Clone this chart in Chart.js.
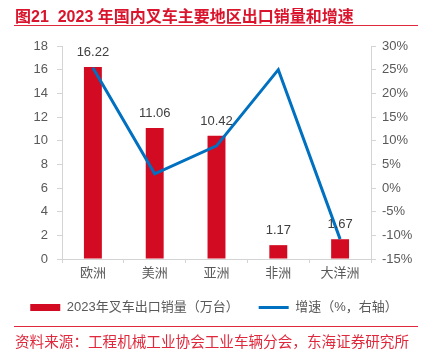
<!DOCTYPE html>
<html>
<head>
<meta charset="utf-8">
<script src="https://cdn.jsdelivr.net/npm/chart.js@4.4.1/dist/chart.umd.min.js"></script>
<style>
  html, body { margin: 0; padding: 0; background: #fff; }
  #wrap { position: relative; width: 428px; height: 355px; overflow: hidden; }
  #title { position: absolute; left: 15px; top: 3px; font: bold 16px "Liberation Sans", "Noto Sans CJK SC", sans-serif; color: #d9142c; white-space: nowrap; }
  #tline { position: absolute; left: 14px; top: 25px; width: 404px; height: 0; border-top: 1.5px solid #e0283c; }
  #bline { position: absolute; left: 14px; top: 326px; width: 404px; height: 0; border-top: 1.5px solid #e0283c; }
  #source { position: absolute; left: 15px; top: 330px; font: 14.6px "Liberation Sans", "Noto Sans CJK SC", sans-serif; color: #e0283c; white-space: nowrap; }
  #cv { position: absolute; left: 0; top: 0; }
</style>
</head>
<body>
<div id="wrap">
  <canvas id="cv" width="428" height="355"></canvas>
  <div id="title">图21&nbsp;&nbsp;2023 年国内叉车主要地区出口销量和增速</div>
  <div id="tline"></div>
  <div id="bline"></div>
  <div id="source">资料来源：工程机械工业协会工业车辆分会，东海证券研究所</div>
</div>
<script>
const categories = ['欧洲', '美洲', '亚洲', '非洲', '大洋洲'];
const exportVolume = [16.22, 11.06, 10.42, 1.17, 1.67];
const growthRate = [25.4, 3.0, 8.9, 25.0, -10.8];
const barLabel = '2023年叉车出口销量（万台）';
const lineLabel = '增速（%，右轴）';

const FONT = '"Liberation Sans", "Noto Sans CJK SC", sans-serif';
const RED = '#d20a22';
const BLUE = '#0070c0';
const GREY_TEXT = '#595959';
const AXIS = '#d4d4d4';

const barValueLabels = {
  id: 'barValueLabels',
  afterDatasetsDraw(chart) {
    const meta = chart.getDatasetMeta(1);
    const ctx = chart.ctx;
    ctx.save();
    ctx.font = '13px ' + FONT;
    ctx.fillStyle = '#404040';
    ctx.textAlign = 'center';
    ctx.textBaseline = 'bottom';
    meta.data.forEach((el, i) => {
      ctx.fillText(exportVolume[i].toFixed(2), el.x, el.y - 8);
    });
    ctx.restore();
  }
};

new Chart(document.getElementById('cv'), {
  data: {
    labels: categories,
    datasets: [
      {
        type: 'line',
        label: lineLabel,
        data: growthRate,
        yAxisID: 'y1',
        borderColor: BLUE,
        backgroundColor: BLUE,
        borderWidth: 3,
        pointRadius: 0,
        tension: 0,
        order: 0
      },
      {
        type: 'bar',
        label: barLabel,
        data: exportVolume,
        yAxisID: 'y',
        backgroundColor: RED,
        borderWidth: 0,
        categoryPercentage: 1,
        barPercentage: 0.29,
        order: 1
      }
    ]
  },
  options: {
    responsive: false,
    animation: false,
    layout: { padding: { top: 46, bottom: 31, left: 0, right: 0 } },
    plugins: {
      tooltip: { enabled: false },
      legend: {
        position: 'bottom',
        labels: {
          font: { size: 13, family: FONT },
          color: GREY_TEXT,
          usePointStyle: true,
          pointStyleWidth: 30,
          boxHeight: 7,
          padding: 20,
          generateLabels() {
            return [
              { text: barLabel, pointStyle: 'rect', fillStyle: RED, strokeStyle: RED, lineWidth: 0, fontColor: GREY_TEXT, datasetIndex: 1 },
              { text: lineLabel, pointStyle: 'line', fillStyle: BLUE, strokeStyle: BLUE, lineWidth: 3, fontColor: GREY_TEXT, datasetIndex: 0 }
            ];
          }
        }
      }
    },
    scales: {
      x: {
        offset: true,
        grid: { display: true, drawOnChartArea: false, drawTicks: true, tickLength: 4, color: AXIS, offset: true },
        border: { display: true, color: AXIS },
        ticks: { font: { size: 13, family: FONT }, color: GREY_TEXT, padding: 3 },
        afterFit(s) { s.height = 22; }
      },
      y: {
        position: 'left',
        min: 0, max: 18,
        ticks: { stepSize: 2, font: { size: 13, family: FONT }, color: GREY_TEXT, padding: 9 },
        grid: { drawOnChartArea: false, drawTicks: true, tickLength: 5, color: AXIS },
        border: { display: true, color: AXIS },
        afterFit(s) { s.width = 62; }
      },
      y1: {
        position: 'right',
        min: -15, max: 30,
        ticks: { stepSize: 5, font: { size: 13, family: FONT }, color: GREY_TEXT, padding: 6, callback: v => v + '%' },
        grid: { drawOnChartArea: false, drawTicks: true, tickLength: 5, color: AXIS },
        border: { display: true, color: AXIS },
        afterFit(s) { s.width = 57; }
      }
    }
  },
  plugins: [barValueLabels]
});
</script>
</body>
</html>
